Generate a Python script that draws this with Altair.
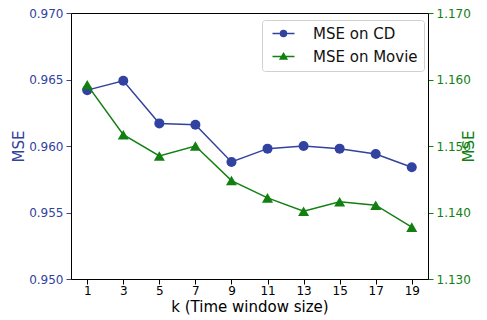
import altair as alt
import pandas as pd

k_values = [1, 3, 5, 7, 9, 11, 13, 15, 17, 19]
mse_cd = [0.9642, 0.9649, 0.9617, 0.9616, 0.9588, 0.9598, 0.9600, 0.9598, 0.9594, 0.9584]
mse_movie = [1.1592, 1.1517, 1.1485, 1.1500, 1.1448, 1.1422, 1.1402, 1.1416, 1.1411, 1.1378]
left_ticks = [0.950, 0.955, 0.960, 0.965, 0.970]
right_ticks = [1.130, 1.140, 1.150, 1.160, 1.170]
series_names = ["MSE on CD", "MSE on Movie"]

BLUE = "#3142A0"
GREEN = "#118011"
FONT = "DejaVu Sans"

df = pd.DataFrame({"k": k_values, "cd": mse_cd, "movie": mse_movie})

x_enc = alt.X(
    "k:Q",
    scale=alt.Scale(domain=[0.1, 19.9], nice=False, zero=False),
    axis=alt.Axis(
        values=k_values, title="k (Time window size)", format="d",
        labelColor="black", tickColor="black", domainColor="black",
        titleColor="black", titleFontSize=15, titleFontWeight="normal",
        labelFontSize=12, tickSize=5, labelPadding=1, titlePadding=3,
        grid=False,
    ),
)

y_left = alt.Y(
    "cd:Q",
    scale=alt.Scale(domain=[0.95, 0.97], nice=False, zero=False),
    axis=alt.Axis(
        orient="left", values=left_ticks, format=".3f", title="MSE",
        labelColor=BLUE, tickColor=BLUE, domainColor="black", titleColor=BLUE,
        titleFontSize=15, titleFontWeight="normal", labelFontSize=12,
        tickSize=5, labelPadding=3, titlePadding=2, grid=False,
    ),
)

y_right = alt.Y(
    "movie:Q",
    scale=alt.Scale(domain=[1.13, 1.17], nice=False, zero=False),
    axis=alt.Axis(
        orient="right", values=right_ticks, format=".3f", title="MSE",
        labelColor=GREEN, tickColor=GREEN, domainColor="black", titleColor=GREEN,
        titleFontSize=15, titleFontWeight="normal", labelFontSize=12,
        tickSize=5, labelPadding=3, titlePadding=6, titleAngle=270, grid=False,
    ),
)

base = alt.Chart(df)

cd_line = base.mark_line(color=BLUE, strokeWidth=1.5).encode(x=x_enc, y=y_left)
cd_pts = base.mark_point(shape="circle", filled=True, size=100, color=BLUE, opacity=1).encode(x=x_enc, y=y_left)

mv_line = base.mark_line(color=GREEN, strokeWidth=1.5).encode(x=x_enc, y=y_right)
mv_pts = base.mark_point(shape="triangle-up", filled=True, size=121, color=GREEN, opacity=1).encode(x=x_enc, y=y_right)

circle_path = "M-2.2,0H2.2M-0.6,0A0.6,0.6,0,1,0,0.6,0A0.6,0.6,0,1,0,-0.6,0Z"
tri_path = "M-2.2,0H2.2M0,-0.62L0.66,0.52L-0.66,0.52Z"

legend_layer = (
    base.transform_filter("false")
    .transform_calculate(series="'x'")
    .mark_point(filled=True, size=289, strokeWidth=1.5, opacity=1)
    .encode(
        x=x_enc,
        y=y_right,
        fill=alt.Fill("series:N", scale=alt.Scale(domain=series_names, range=[BLUE, GREEN]),
                      legend=alt.Legend(title=None)),
        stroke=alt.Stroke("series:N", scale=alt.Scale(domain=series_names, range=[BLUE, GREEN]),
                          legend=alt.Legend(title=None)),
        shape=alt.Shape("series:N", scale=alt.Scale(domain=series_names, range=[circle_path, tri_path]),
                        legend=alt.Legend(title=None)),
    )
)

left = alt.layer(cd_line, cd_pts)
right = alt.layer(mv_line, mv_pts, legend_layer)

chart = (
    alt.layer(left, right)
    .resolve_scale(y="independent")
    .properties(
        width=357, height=266,
        autosize=alt.AutoSizeParams(type="none"),
        padding={"left": 63, "top": 5, "right": 51, "bottom": 38},
    )
    .configure(font=FONT)
    .configure_view(stroke="black", strokeWidth=1)
    .configure_legend(
        orient="none", legendX=191, legendY=7,
        padding=6, strokeColor="#d0d0d0", fillColor="white", cornerRadius=3,
        labelFontSize=15, labelColor="#111111", labelFont=FONT,
        symbolOffset=8, labelOffset=22, rowPadding=7, symbolStrokeWidth=1.5,
        labelLimit=300,
    )
)

chart.save("out.html", embed_options={"renderer": "svg", "actions": False})
